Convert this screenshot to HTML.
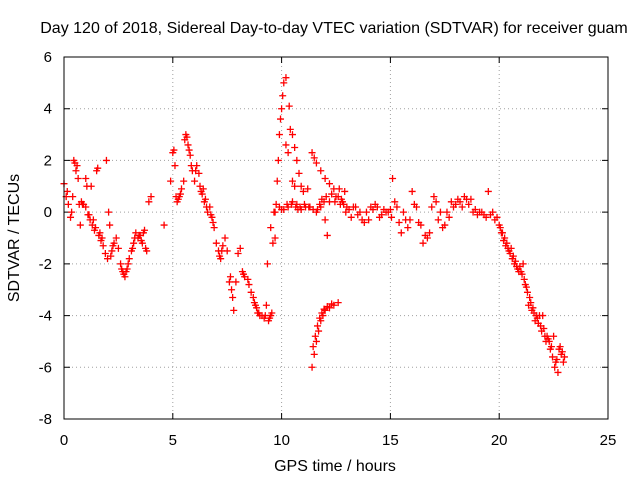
<!DOCTYPE html>
<html><head><meta charset="utf-8"><style>
body{margin:0;background:#fff}
svg{display:block;font-family:"Liberation Sans",sans-serif}
</style></head><body>
<svg id="chart" width="640" height="480">
<rect width="640" height="480" fill="#fff"/>
<text x="334" y="33" font-size="16" text-anchor="middle">Day 120 of 2018, Sidereal Day-to-day VTEC variation (SDTVAR) for receiver guam</text>
<text x="335" y="471" font-size="16" text-anchor="middle">GPS time / hours</text>
<text transform="translate(19,238) rotate(-90)" font-size="16" text-anchor="middle">SDTVAR / TECUs</text>
<g id="grid"></g><g id="ticks"></g><g id="marks"></g>
<rect x="64" y="57" width="544" height="362" fill="none" stroke="#000"/>
</svg>
<script>
const xTicks=[0,5,10,15,20,25];
const yTicks=[-8,-6,-4,-2,0,2,4,6];
const xs=[0.0,0.1,0.2,0.3,0.4,0.45,0.5,0.55,0.6,0.65,0.7,0.75,0.8,0.9,1.0,1.0,1.05,1.1,1.2,1.3,1.4,1.5,1.55,1.6,1.7,1.8,1.9,1.95,2.0,2.05,2.1,2.2,2.3,2.4,2.5,2.6,2.7,2.8,2.9,3.0,3.1,3.2,3.3,3.4,3.5,3.6,3.7,3.75,3.8,3.9,4.0,4.6,4.9,5.0,5.05,5.1,5.2,5.3,5.4,5.5,5.55,5.6,5.65,5.7,5.8,5.9,6.0,6.1,6.2,6.3,6.4,6.5,6.6,6.7,6.8,6.9,7.0,7.1,7.2,7.3,7.4,7.5,7.6,7.7,7.8,7.9,8.0,8.1,8.2,8.3,8.5,8.6,8.7,8.8,8.9,9.0,9.2,9.3,9.35,9.4,9.5,9.5,9.6,9.65,9.7,9.75,9.8,9.85,9.9,9.95,10.0,10.05,10.1,10.2,10.2,10.3,10.35,10.4,10.5,10.6,10.7,10.8,10.5,10.6,10.9,11.0,11.2,11.4,11.5,11.6,11.8,12.0,12.2,12.4,12.6,12.8,
9.7,9.9,10.1,10.3,10.5,10.7,10.9,11.1,11.3,11.6,11.8,12.0,12.1,12.2,12.5,12.7,12.9,13.0,13.2,13.4,13.6,13.8,14.0,14.2,14.4,14.6,14.8,15.0,15.1,15.2,15.4,15.5,15.7,16.0,16.2,16.4,16.5,16.7,16.9,17.0,17.2,17.5,17.7,17.9,18.0,18.2,18.4,18.6,18.8,19.0,19.2,19.4,19.5,19.6,19.8,20.0,20.1,20.2,20.3,20.5,20.6,20.8,21.0,21.1,21.2,21.4,21.5,21.7,21.8,22.0,22.2,22.4,22.5,22.6,22.7,22.8,22.9,23.0,
11.4,11.5,11.6,11.7,11.8,11.9,12.0,12.2,12.4,12.6,
0.15,0.35,0.85,1.15,1.25,1.35,1.45,1.65,1.75,2.15,2.25,2.65,2.75,2.85,2.95,3.15,3.25,3.45,3.55,3.65,5.15,5.25,5.35,5.75,5.85,6.05,6.25,6.35,6.45,6.55,6.75,6.85,7.15,7.25,7.65,7.75,8.25,8.45,8.75,8.85,8.95,9.1,9.25,9.45,9.55,
10.0,10.25,10.45,10.65,10.75,10.85,11.05,11.25,11.45,11.65,11.75,11.85,11.95,12.05,12.3,12.45,12.65,12.75,12.85,12.95,13.1,13.3,13.5,13.7,13.9,14.1,14.3,14.5,14.7,14.9,15.05,15.3,15.6,15.8,15.9,16.1,16.3,16.6,16.8,17.1,17.3,17.4,17.6,17.8,18.1,18.3,18.5,18.7,18.9,19.1,19.3,19.7,19.9,20.05,20.15,20.25,20.35,20.4,20.45,20.55,20.65,20.7,20.75,20.85,20.9,20.95,21.05,21.15,21.25,21.3,21.35,21.45,21.55,21.6,21.65,21.75,21.85,21.9,21.95,22.05,22.1,22.15,22.25,22.3,22.35,22.45,22.55,22.65,22.75,22.85,22.95,
11.45,11.55,11.65,11.75,11.85,11.95,12.1,12.3,12.5];
const ys=[1.1,0.6,0.3,-0.2,0.6,2.0,1.9,1.6,1.8,1.3,0.3,-0.5,0.4,0.3,0.2,1.3,1.0,-0.1,-0.3,-0.5,-0.7,1.6,1.7,-0.9,-1.1,-1.3,-1.6,2.0,-1.8,0.0,-0.5,-1.5,-1.2,-1.0,-1.4,-2.0,-2.3,-2.5,-2.2,-1.8,-1.5,-1.2,-0.8,-1.0,-0.9,-1.2,-0.7,-1.4,-1.5,0.4,0.6,-0.5,1.2,2.3,2.4,1.8,0.4,0.6,0.9,1.2,2.8,3.0,2.9,2.6,2.2,1.6,1.2,1.8,1.5,0.8,0.9,0.5,0.0,0.2,-0.2,-0.6,-1.2,-1.5,-1.8,-1.3,-1.0,-1.5,-2.7,-3.0,-3.8,-2.7,-1.6,-1.4,-2.3,-2.5,-2.8,-3.1,-3.3,-3.6,-3.9,-4.0,-4.1,-3.6,-2.0,-4.2,-4.0,-0.6,-1.2,0.0,-1.0,0.3,1.2,2.0,3.0,3.6,4.0,4.5,5.0,5.2,2.6,2.3,4.1,3.2,3.0,2.5,2.0,1.5,1.2,1.0,1.0,0.8,0.9,2.3,2.1,1.9,1.6,1.3,1.1,0.9,0.6,0.4,
0.0,0.2,0.1,0.2,0.4,0.3,0.1,0.2,0.2,0.0,0.2,-0.3,-0.9,0.4,0.6,0.3,0.8,0.2,-0.2,0.2,0.0,-0.4,-0.3,0.1,0.2,-0.1,0.0,0.1,1.3,0.4,-0.4,-0.8,-0.3,0.8,0.2,-0.5,-1.2,-1.0,0.2,0.6,-0.3,-0.5,-0.2,0.2,0.3,0.4,0.6,0.3,0.0,-0.1,0.0,-0.2,0.8,-0.1,-0.3,-0.5,-0.8,-1.1,-1.3,-1.6,-1.8,-2.1,-2.3,-2.0,-2.8,-3.3,-3.8,-4.0,-4.3,-4.0,-4.8,-5.2,-4.8,-5.8,-6.2,-5.2,-5.4,-5.6,
-6.0,-5.5,-5.0,-4.6,-4.2,-4.0,-3.8,-3.7,-3.6,-3.5,
0.8,0.0,0.3,-0.1,1.0,-0.3,-0.6,-0.8,-1.0,-1.7,-1.3,-2.2,-2.4,-2.3,-2.0,-1.4,-1.0,-0.9,-1.1,-0.8,0.6,0.5,0.7,2.4,1.8,1.6,1.0,0.7,0.4,0.2,-0.1,-0.4,-1.7,-1.5,-2.5,-3.3,-2.4,-2.6,-3.5,-3.7,-3.9,-4.0,-4.0,-4.1,-3.9,
0.1,0.3,0.3,0.2,0.1,0.2,0.3,0.2,0.1,0.1,0.3,0.5,0.4,0.6,0.7,0.4,0.9,0.5,0.3,0.0,0.1,0.2,-0.1,-0.3,0.0,0.2,0.3,-0.2,0.1,0.0,-0.2,0.2,0.0,-0.6,-0.3,0.3,-0.4,-0.9,-0.8,0.4,0.0,-0.6,0.0,0.4,0.5,0.2,0.5,0.5,0.1,0.0,-0.1,0.0,-0.2,-0.6,-0.8,-1.0,-1.2,-1.4,-1.5,-1.4,-1.7,-2.0,-1.9,-2.2,-2.3,-2.1,-2.4,-2.6,-2.9,-3.1,-3.6,-3.5,-3.7,-3.9,-4.2,-4.1,-4.0,-4.4,-4.6,-4.5,-4.8,-5.0,-4.9,-5.0,-5.3,-5.6,-6.0,-5.7,-5.3,-5.5,
-5.8,-5.2,-4.8,-4.4,-4.1,-3.9,-3.75,-3.65,-3.55];
const X0=64,X1=608,Y0=419,Y1=57;
const sx=v=>X0+(v-0)/(25-0)*(X1-X0);
const sy=v=>Y0-(v+8)/(6+8)*(Y0-Y1);
const NS="http://www.w3.org/2000/svg";
const grid=document.getElementById('grid'),ticks=document.getElementById('ticks'),marks=document.getElementById('marks');
function mk(t,a){const e=document.createElementNS(NS,t);for(const k in a)e.setAttribute(k,a[k]);return e;}
xTicks.forEach(t=>{
 const x=sx(t);
 if(t>0&&t<25){const g=mk('line',{x1:x,x2:x,y1:Y0,y2:Y1,stroke:'#a0a0a0','stroke-dasharray':'1,3'});
 
 grid.appendChild(g);}
 const tk=mk('path',{d:`M${x},${Y0}v-6M${x},${Y1}v6`,stroke:'#000'});
 
 ticks.appendChild(tk);
 const l=mk('text',{x:x,y:445,'font-size':15,'text-anchor':'middle'});l.textContent=t;
 
 ticks.appendChild(l);
});
yTicks.forEach(t=>{
 const y=sy(t);
 if(t>-8&&t<6){const g=mk('line',{x1:X0,x2:X1,y1:y,y2:y,stroke:'#a0a0a0','stroke-dasharray':'1,3'});
 
 grid.appendChild(g);}
 const tk=mk('path',{d:`M${X0},${y}h6M${X1},${y}h-6`,stroke:'#000'});
 
 ticks.appendChild(tk);
 const l=mk('text',{x:52,y:y+5,'font-size':15,'text-anchor':'end'});l.textContent=t;
 
 ticks.appendChild(l);
});
xs.forEach((v,i)=>{
 const x=sx(v),y=sy(ys[i]);
 const p=mk('path',{d:`M${x-3.5},${y}h7M${x},${y-3.5}v7`,stroke:'#f00','stroke-width':1.3});
 
 
 marks.appendChild(p);
});
</script>
</body></html>
